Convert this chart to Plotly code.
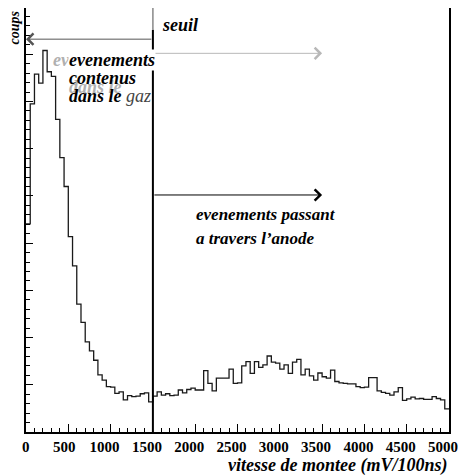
import plotly.graph_objects as go

# ---- data ----
bin_width = 50
bin_edges = [i * bin_width for i in range(101)]  # 0 .. 5000
counts = [
    441, 695, 758, 739, 808, 763, 753, 662, 581, 520,
    414, 352, 271, 232, 191, 172, 152, 121, 110, 96,
    95, 82, 85, 68, 77, 75, 76, 81, 83, 64,
    76, 85, 78, 81, 77, 78, 89, 83, 90, 93,
    89, 89, 130, 103, 87, 114, 114, 114, 133, 103,
    104, 140, 149, 124, 149, 137, 142, 161, 148, 146,
    133, 142, 124, 148, 154, 121, 133, 119, 110, 125,
    117, 114, 131, 107, 104, 103, 102, 102, 96, 94,
    95, 115, 115, 87, 84, 82, 78, 85, 94, 67,
    70, 74, 70, 71, 69, 69, 75, 71, 68, 49,
]
x_tick_vals = [0, 500, 1000, 1500, 2000, 2500, 3000, 3500, 4000, 4500, 5000]
x_tick_text = ["\u00a0\u00a0\u00a00", "\u00a0500", "1000", "1500", "2000", "2500",
               "3000", "3500", "4000", "4500", "5000"]
seuil = 1500
arrow_end = 3500
y_max = 898
y_left_arrow = 832
y_gray_arrow = 802
y_black_arrow = 502
y_seuil_gray_start = 852

FONT = "Liberation Serif, Times New Roman, serif"

# step outline built from bin edges and counts
step_x = bin_edges
step_y = counts + [counts[-1]]

fig = go.Figure()
fig.add_trace(go.Scatter(
    x=step_x, y=step_y, mode="lines", line_shape="hv",
    line=dict(color="#1a1a1a", width=1.3), hoverinfo="skip", showlegend=False,
))

# threshold line
fig.add_shape(type="line", xref="x", yref="y", x0=seuil, x1=seuil, y0=0, y1=y_seuil_gray_start,
              line=dict(color="black", width=2))
fig.add_shape(type="line", xref="x", yref="y", x0=seuil, x1=seuil, y0=y_seuil_gray_start, y1=y_max,
              line=dict(color="#888888", width=1.5))

# arrows
def arrow(x_tip, x_tail, y, color):
    fig.add_annotation(x=x_tip, y=y, ax=x_tail, ay=y, xref="x", yref="y", axref="x", ayref="y",
                       text="", showarrow=True, arrowhead=4, arrowsize=2.2, arrowwidth=1,
                       arrowcolor=color, standoff=0, startstandoff=0)

arrow(0, seuil, y_left_arrow, "#555555")
arrow(arrow_end, seuil, y_gray_arrow, "#b8b8b8")
arrow(arrow_end, seuil, y_black_arrow, "black")

def label(text, x, y, color="black", size=18, bg=None):
    fig.add_annotation(x=x, y=y, xref="x", yref="y", text=text, showarrow=False,
                       xanchor="left", yanchor="middle", bgcolor=bg, borderpad=0,
                       font=dict(family=FONT, size=size, color=color))

label("<b><i>seuil</i></b>", 1596, 862)
label("<b><i>evenements</i></b>", 307, 788, color="#b0b0b0")
label("<b><i>dans le</i></b>", 496, 731, color="#b0b0b0")
label("<b><i>evenements</i></b>", 496, 788, bg="white")
label("<b><i>contenus</i></b>", 496, 750)
label("<b><i>dans le</i></b>", 496, 712)
label("<i>gaz</i>", 1170, 712, color="#444444")
label("<b><i>evenements passant</i></b>", 1998, 460, size=17)
label("<b><i>a travers l’anode</i></b>", 1998, 409, size=17)

# axis titles
fig.add_annotation(x=0, y=1, xref="paper", yref="paper", text="<b><i>coups</i></b>", showarrow=False,
                   textangle=-90, xanchor="right", yanchor="top", xshift=-3, yshift=0,
                   font=dict(family=FONT, size=14, color="black"))
fig.add_annotation(x=1, y=0, xref="paper", yref="paper", text="<b><i>vitesse de montee (mV/100ns)</i></b>",
                   showarrow=False, xanchor="right", yanchor="middle", yshift=-33,
                   font=dict(family=FONT, size=18, color="black"))

fig.update_layout(
    width=458, height=468,
    margin=dict(l=18, r=17, t=0, b=44, autoexpand=False),
    paper_bgcolor="white", plot_bgcolor="white",
    showlegend=False,
    xaxis=dict(range=[0, 5000], tickvals=x_tick_vals, ticktext=x_tick_text,
               ticks="inside", ticklen=8, tickwidth=1, tickcolor="black",
               ticklabelshift=-6,
               minor=dict(dtick=100, ticks="inside", ticklen=4, tickcolor="black", tickwidth=1),
               showline=True, linecolor="black", linewidth=1.5, mirror=True,
               showgrid=False, zeroline=False, automargin=False,
               tickfont=dict(family=FONT, size=15, color="black", weight="bold")),
    yaxis=dict(range=[0, y_max], dtick=100, tick0=0,
               ticks="inside", ticklen=7, tickwidth=1, tickcolor="black",
               minor=dict(dtick=20, ticks="inside", ticklen=4, tickcolor="black", tickwidth=1),
               showline=True, linecolor="black", linewidth=1.5, mirror=True,
               showgrid=False, zeroline=False, showticklabels=False, automargin=False),
)

fig.write_html("out.html")
